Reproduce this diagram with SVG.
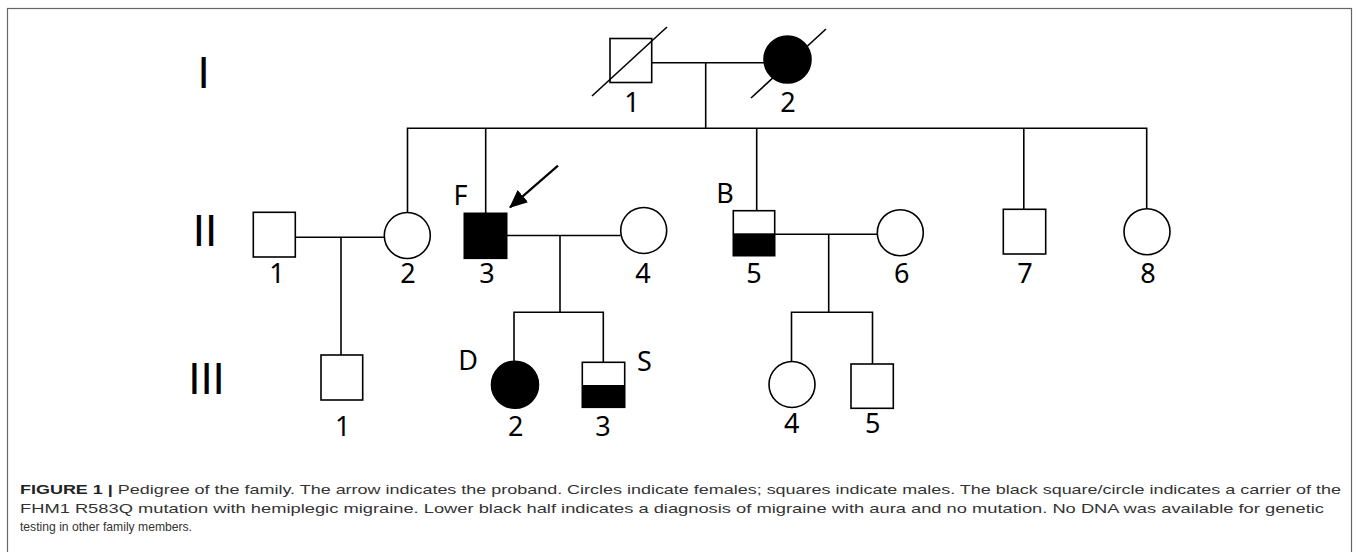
<svg xmlns="http://www.w3.org/2000/svg" width="1358" height="552" viewBox="0 0 1358 552">
<style>
.ln{stroke:#000;stroke-width:1.6;fill:none}
.m{fill:#fff;stroke:#000;stroke-width:1.6}
.a{fill:#000;stroke:#000;stroke-width:1.6}
.sl{stroke:#000;stroke-width:1.6}
.lb{font-family:"Noto Sans","Liberation Sans",sans-serif;font-size:27px;fill:#000;text-anchor:middle}
.gen{font-family:"Liberation Sans",sans-serif;font-size:44px;fill:#000;text-anchor:middle}
.cap{font-family:"Liberation Sans",Arial,sans-serif;font-size:13.5px;fill:#333}
</style>
<defs>
<marker id="ah" markerWidth="18" markerHeight="16" refX="17" refY="8" orient="auto" markerUnits="userSpaceOnUse" viewBox="0 0 18 16">
<path d="M0,0 L18,8 L0,16 z" fill="#000"/>
</marker>
</defs>
<rect x="7.5" y="8.5" width="1344" height="560" fill="#fff" stroke="#666" stroke-width="1.2"/>
<g id="generations">
<text class="gen" x="203.5" y="87.5">I</text>
<text class="gen" x="205" y="246">II</text>
<text class="gen" x="206.5" y="394">III</text>
</g>
<g id="connectors">
<path class="ln" d="M652,62.7 H764"/>
<path class="ln" d="M705.7,62.7 V128.3"/>
<path class="ln" d="M407.5,212.5 V128.3 H1146.7 V208.7"/>
<path class="ln" d="M485.7,128.3 V213.3"/>
<path class="ln" d="M756.7,128.3 V210.7"/>
<path class="ln" d="M1023.8,128.3 V209.3"/>
<path class="ln" d="M295.3,237.3 H384.5"/>
<path class="ln" d="M341,237.3 V355"/>
<path class="ln" d="M506.7,235.5 H620.7"/>
<path class="ln" d="M560,235.5 V312.3"/>
<path class="ln" d="M514,361 V312.3 H603.3 V362.3"/>
<path class="ln" d="M774.7,234.3 H877.3"/>
<path class="ln" d="M828.7,234.3 V312.3"/>
<path class="ln" d="M791.5,361.5 V312.3 H872.5 V364"/>
<line x1="558" y1="165.7" x2="510" y2="207.3" stroke="#000" stroke-width="2.2" marker-end="url(#ah)"/>
</g>
<g id="I-1">
<rect class="m" x="610" y="38.5" width="41.7" height="44"/>
<line class="sl" x1="592" y1="96" x2="667" y2="27"/>
<text class="lb" x="632" y="112">1</text>
</g>
<g id="I-2">
<circle class="a" cx="787.5" cy="59.5" r="23.5"/>
<line class="sl" x1="751" y1="98" x2="826" y2="29"/>
<text class="lb" x="788" y="112">2</text>
</g>
<g id="II-1">
<rect class="m" x="253.3" y="212.3" width="42" height="44.7"/>
<text class="lb" x="277" y="283">1</text>
</g>
<g id="II-2">
<circle class="m" cx="407.3" cy="235.5" r="23"/>
<text class="lb" x="408" y="283">2</text>
</g>
<g id="II-3">
<rect class="a" x="464.3" y="213.3" width="42.4" height="45"/>
<text class="lb" x="487" y="283">3</text>
<text class="lb" x="460.5" y="205">F</text>
</g>
<g id="II-4">
<circle class="m" cx="643.7" cy="230.5" r="23"/>
<text class="lb" x="643" y="283">4</text>
</g>
<g id="II-5">
<rect class="m" x="733.3" y="210.7" width="41.4" height="45"/>
<rect x="733.3" y="233.3" width="41.4" height="22.4" fill="#000"/>
<text class="lb" x="754" y="283">5</text>
<text class="lb" x="725" y="203">B</text>
</g>
<g id="II-6">
<circle class="m" cx="900.3" cy="232.7" r="23"/>
<text class="lb" x="901.7" y="283">6</text>
</g>
<g id="II-7">
<rect class="m" x="1003.3" y="209.3" width="42.4" height="44.7"/>
<text class="lb" x="1025" y="283">7</text>
</g>
<g id="II-8">
<circle class="m" cx="1147" cy="231.7" r="23"/>
<text class="lb" x="1148" y="283">8</text>
</g>
<g id="III-1">
<rect class="m" x="321" y="355" width="41.7" height="45"/>
<text class="lb" x="342.7" y="435.7">1</text>
</g>
<g id="III-2">
<circle class="a" cx="515" cy="384.7" r="23.5"/>
<text class="lb" x="515.7" y="435.7">2</text>
<text class="lb" x="468" y="370">D</text>
</g>
<g id="III-3">
<rect class="m" x="582.3" y="362.3" width="42.4" height="45"/>
<rect x="582.3" y="385" width="42.4" height="22.3" fill="#000"/>
<text class="lb" x="603" y="435.7">3</text>
<text class="lb" x="644.3" y="370.7">S</text>
</g>
<g id="III-4">
<circle class="m" cx="792" cy="384.5" r="23"/>
<text class="lb" x="791.7" y="433">4</text>
</g>
<g id="III-5">
<rect class="m" x="851" y="364" width="42.3" height="44.3"/>
<text class="lb" x="872.7" y="433">5</text>
</g>
<g id="caption">
<text class="cap" x="20" y="494.3" textLength="1321" lengthAdjust="spacingAndGlyphs"><tspan font-weight="bold" fill="#222">FIGURE 1 |</tspan> Pedigree of the family. The arrow indicates the proband. Circles indicate females; squares indicate males. The black square/circle indicates a carrier of the</text>
<text class="cap" x="20" y="512.7" textLength="1304" lengthAdjust="spacingAndGlyphs">FHM1 R583Q mutation with hemiplegic migraine. Lower black half indicates a diagnosis of migraine with aura and no mutation. No DNA was available for genetic</text>
<text class="cap" x="20" y="530.8" textLength="172" lengthAdjust="spacingAndGlyphs">testing in other family members.</text>
</g>
</svg>
